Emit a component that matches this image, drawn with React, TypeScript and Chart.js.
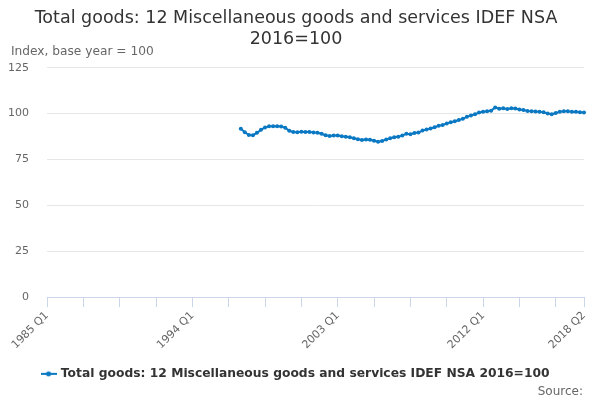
import React, { useEffect, useRef } from "react";
import { Chart, registerables } from "chart.js";

Chart.register(...registerables);

const START_YEAR = 1985;
const END_YEAR = 2018;
const END_QUARTER = 2;

// Quarterly categories 1985 Q1 .. 2018 Q2
const categories: string[] = [];
for (let y = START_YEAR; y <= END_YEAR; y++) {
  for (let q = 1; q <= 4; q++) {
    if (y === END_YEAR && q > END_QUARTER) break;
    categories.push(`${y} Q${q}`);
  }
}

const FIRST_DATA_LABEL = "1997 Q1";

// Index values 1997 Q1 .. 2018 Q2
const seriesValues: number[] = [
  91.7, 89.8, 88.3, 88.2, 89.5, 91.1, 92.4, 93.0, 93.1, 93.0,
  92.9, 92.3, 90.6, 89.9, 89.8, 90.1, 89.9, 90.0, 89.6, 89.5,
  89.0, 88.2, 87.7, 88.0, 88.0, 87.6, 87.3, 87.1, 86.5, 86.0,
  85.6, 85.9, 85.7, 85.2, 84.6, 85.0, 85.8, 86.5, 87.1, 87.3,
  88.0, 89.0, 88.7, 89.4, 89.6, 90.7, 91.3, 91.8, 92.5, 93.4,
  93.7, 94.6, 95.3, 95.8, 96.5, 97.1, 98.2, 98.9, 99.6, 100.5,
  101.0, 101.2, 101.5, 103.3, 102.6, 102.9, 102.4, 102.9, 102.7, 102.2,
  101.9, 101.4, 101.3, 101.1, 100.9, 100.7, 100.0, 99.6, 100.3, 100.9,
  101.2, 101.3, 100.9, 101.0, 100.7, 100.5,
];

const shownXLabels: string[] = ["1985 Q1", "1994 Q1", "2003 Q1", "2012 Q1", "2018 Q2"];
const yTicks: number[] = [0, 25, 50, 75, 100, 125];

const SERIES_NAME = "Total goods: 12 Miscellaneous goods and services IDEF NSA 2016=100";
const TITLE_LINES = ["Total goods: 12 Miscellaneous goods and services IDEF NSA", "2016=100"];
const Y_TITLE = "Index, base year = 100";
const SOURCE_TEXT = "Source:";

const COLOR = "#0a78c2";
const FONT = "'DejaVu Sans', sans-serif";

export default function App() {
  const canvasRef = useRef<HTMLCanvasElement | null>(null);

  useEffect(() => {
    document.body.style.margin = "0";
    const canvas = canvasRef.current;
    if (!canvas) return;

    const offset = categories.indexOf(FIRST_DATA_LABEL);
    const data: (number | null)[] = categories.map((_, i) =>
      i >= offset && i - offset < seriesValues.length ? seriesValues[i - offset] : null
    );

    // legend symbol: line with marker
    const sym = document.createElement("canvas");
    sym.width = 16;
    sym.height = 10;
    const sctx = sym.getContext("2d")!;
    sctx.strokeStyle = COLOR;
    sctx.lineWidth = 2;
    sctx.beginPath();
    sctx.moveTo(0, 5);
    sctx.lineTo(16, 5);
    sctx.stroke();
    sctx.fillStyle = COLOR;
    sctx.beginPath();
    sctx.arc(8, 5, 2.5, 0, Math.PI * 2);
    sctx.fill();

    const textPlugin = {
      id: "extraText",
      afterDraw(chart: any) {
        const ctx = chart.ctx;
        ctx.save();
        ctx.fillStyle = "#666666";
        ctx.textBaseline = "middle";
        ctx.font = `12.2px ${FONT}`;
        ctx.textAlign = "left";
        ctx.fillText(Y_TITLE, 11, 52);
        ctx.font = `12px ${FONT}`;
        ctx.textAlign = "right";
        ctx.fillText(SOURCE_TEXT, 583, 392);
        ctx.restore();
      },
    };

    const chart = new Chart(canvas, {
      type: "line",
      data: {
        labels: categories,
        datasets: [
          {
            label: SERIES_NAME,
            data,
            borderColor: COLOR,
            backgroundColor: COLOR,
            borderWidth: 2,
            pointRadius: 2,
            pointHoverRadius: 3,
            pointBackgroundColor: COLOR,
            pointBorderWidth: 0,
            tension: 0,
          },
        ],
      },
      options: {
        animation: false,
        responsive: false,
        maintainAspectRatio: false,
        layout: { autoPadding: false, padding: { left: 8, right: 16, top: 5, bottom: 10 } },
        plugins: {
          title: {
            display: true,
            text: TITLE_LINES,
            color: "#333333",
            font: { family: FONT, size: 17.5, weight: "normal", lineHeight: 1.23 },
            padding: { top: 2.5, bottom: 17.1 },
          },
          legend: {
            display: true,
            position: "bottom",
            labels: {
              color: "#333333",
              font: { family: FONT, size: 12.3, weight: "bold" },
              usePointStyle: true,
              boxWidth: 18,
              padding: 14,
              generateLabels: (ch: any) =>
                ch.data.datasets.map((ds: any, i: number) => ({
                  text: ds.label,
                  fillStyle: COLOR,
                  strokeStyle: COLOR,
                  lineWidth: 0,
                  pointStyle: sym,
                  hidden: false,
                  datasetIndex: i,
                  fontColor: "#333333",
                })),
            },
          },
          tooltip: { enabled: false },
        },
        scales: {
          x: {
            type: "category",
            offset: false,
            border: { display: true, color: "#ccd6eb" },
            grid: {
              drawOnChartArea: false,
              drawTicks: true,
              tickLength: 10,
              color: (ctx: any) =>
                ctx.index % 9 === 0 || ctx.index === categories.length - 1 ? "#ccd6eb" : "rgba(0,0,0,0)",
            },
            afterFit: (axis: any) => {
              axis.paddingLeft = 0;
              axis.paddingRight = 0;
            },
            ticks: {
              autoSkip: false,
              maxRotation: 45,
              minRotation: 45,
              color: "#666666",
              font: { family: FONT, size: 11 },
              padding: 2,
              callback: (_v: any, i: number) =>
                shownXLabels.includes(categories[i]) ? categories[i] : "",
            },
          },
          y: {
            min: yTicks[0],
            max: yTicks[yTicks.length - 1],
            border: { display: false },
            grid: { color: "#e6e6e6", drawTicks: false },
            afterBuildTicks: (axis: any) => {
              axis.ticks = yTicks.map((v) => ({ value: v }));
            },
            afterFit: (axis: any) => {
              axis.width = 39;
            },
            ticks: {
              color: "#666666",
              font: { family: FONT, size: 11 },
              padding: 18,
            },
          },
        },
      },
      plugins: [textPlugin],
    });

    return () => chart.destroy();
  }, []);

  return (
    <div style={{ width: 600, height: 400 }}>
      <canvas ref={canvasRef} width={600} height={400} style={{ width: 600, height: 400, display: "block" }} />
    </div>
  );
}
